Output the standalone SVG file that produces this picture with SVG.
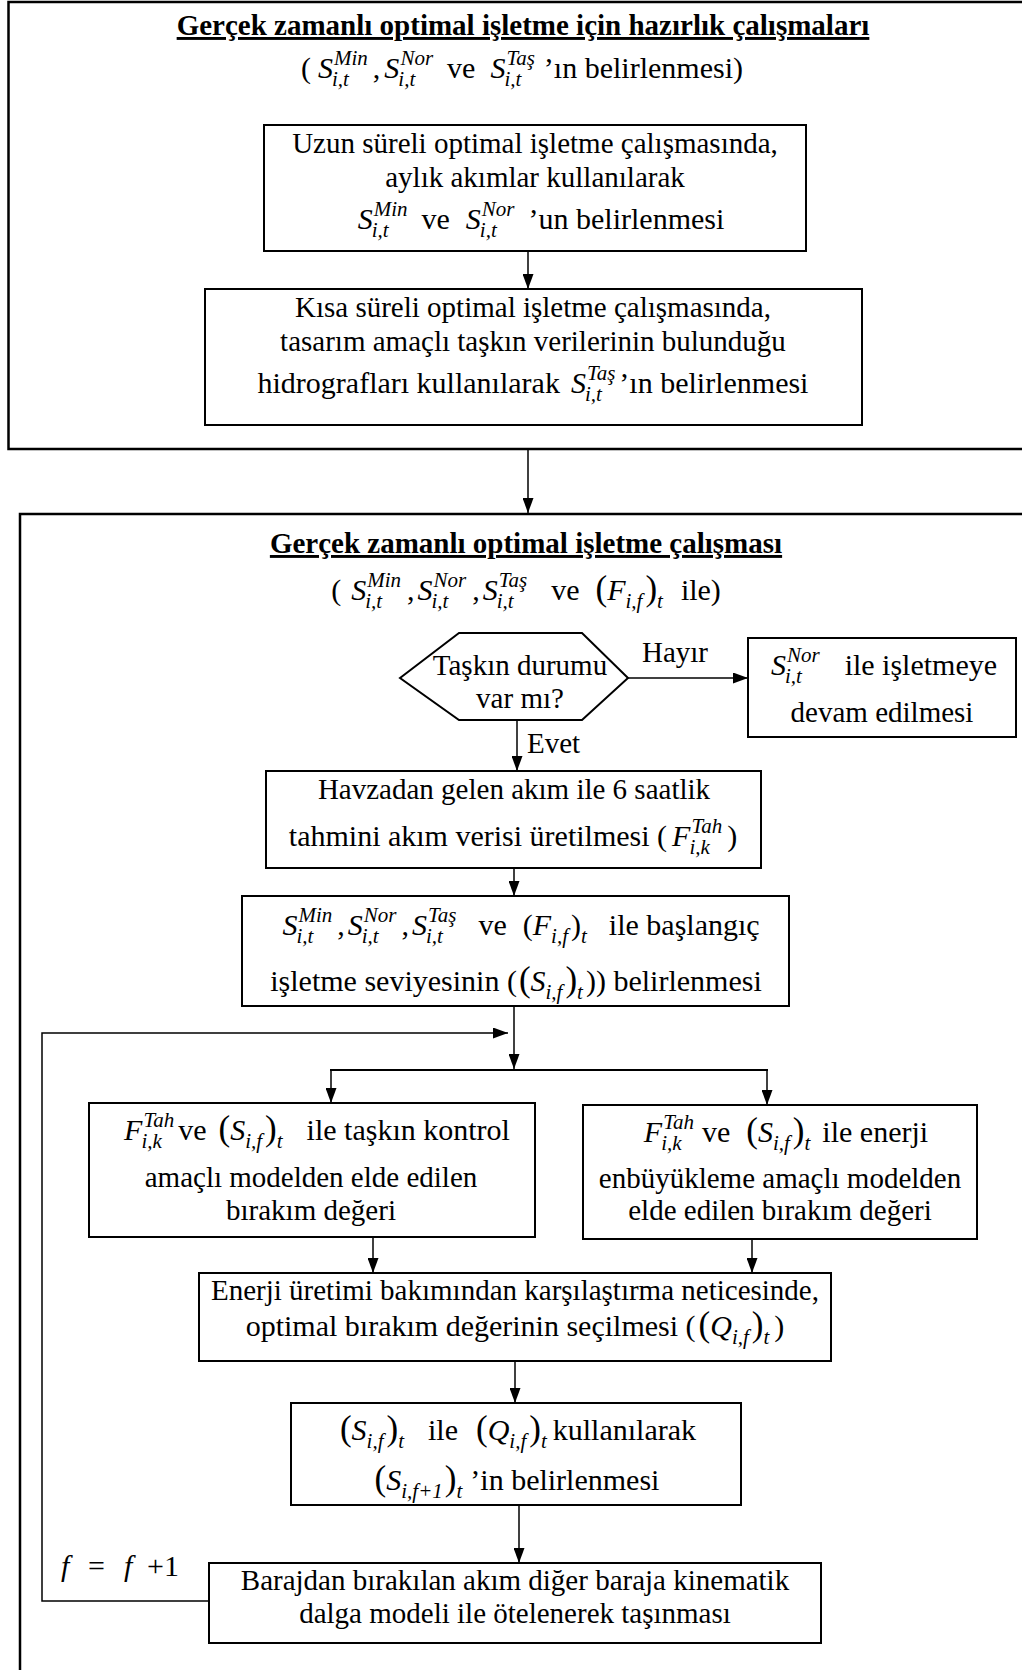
<svg xmlns="http://www.w3.org/2000/svg" width="1022" height="1670" viewBox="0 0 1022 1670">
<style>
.t{font-family:"Liberation Serif","Times New Roman",serif;font-size:29px;fill:#000}
.m{font-size:30px}
.b{font-weight:bold;text-decoration:underline}
.i{font-style:italic}
.s{font-style:italic;font-size:21px}
.p{font-size:35px}
.frame{fill:none;stroke:#000;stroke-width:2.5}
.box{fill:#fff;stroke:#000;stroke-width:2}
.c{fill:none;stroke:#000;stroke-width:1.5}
</style>
<defs>
<marker id="ah" markerWidth="15" markerHeight="11" refX="15" refY="5.5" orient="auto" markerUnits="userSpaceOnUse"><path d="M0,0 L15,5.5 L0,11 z" fill="#000"/></marker>
</defs>
<rect width="1022" height="1670" fill="#fff"/>

<g id="frame-prep">
<path class="frame" d="M1030,2 H8.5 V449 H1030"/>
<text class="t b" x="523" y="35" text-anchor="middle">Gerçek zamanlı optimal işletme için hazırlık çalışmaları</text>
<text class="t m" x="522" y="78" text-anchor="middle">(<tspan class="i" dx="7">S</tspan><tspan class="s" dx="-1" dy="8">i,t</tspan><tspan class="s" dx="-14.9" dy="-21">Min</tspan><tspan dx="5" dy="13">,</tspan><tspan class="i" dx="4">S</tspan><tspan class="s" dx="-1" dy="8">i,t</tspan><tspan class="s" dx="-14.9" dy="-21">Nor</tspan><tspan dx="14" dy="13">ve</tspan><tspan class="i" dx="15">S</tspan><tspan class="s" dx="-1" dy="8">i,t</tspan><tspan class="s" dx="-14.9" dy="-21">Taş</tspan><tspan dx="9" dy="13">’ın belirlenmesi)</tspan></text>
</g>

<g id="frame-realtime">
<path class="frame" d="M1030,514 H20 V1680"/>
<text class="t b" x="526" y="553" text-anchor="middle">Gerçek zamanlı optimal işletme çalışması</text>
<text class="t m" x="526" y="600" text-anchor="middle">(<tspan class="i" dx="10">S</tspan><tspan class="s" dx="-1" dy="8">i,t</tspan><tspan class="s" dx="-14.9" dy="-21">Min</tspan><tspan dx="6" dy="13">,</tspan><tspan class="i" dx="3">S</tspan><tspan class="s" dx="-1" dy="8">i,t</tspan><tspan class="s" dx="-14.9" dy="-21">Nor</tspan><tspan dx="6" dy="13">,</tspan><tspan class="i" dx="3">S</tspan><tspan class="s" dx="-1" dy="8">i,t</tspan><tspan class="s" dx="-14.9" dy="-21">Taş</tspan><tspan dx="24" dy="13">ve</tspan><tspan class="p" dx="16">(</tspan><tspan class="i">F</tspan><tspan class="s" dy="8">i,f</tspan><tspan class="p" dx="3" dy="-8">)</tspan><tspan class="s" dy="8">t</tspan><tspan dx="18" dy="-8">ile)</tspan></text>
</g>

<g id="connectors">
<path class="c" d="M528,251 V289" marker-end="url(#ah)"/>
<path class="c" d="M528,449 V513" marker-end="url(#ah)"/>
<path class="c" d="M628,678 H748" marker-end="url(#ah)"/>
<path class="c" d="M517,720 V771" marker-end="url(#ah)"/>
<path class="c" d="M514,868 V896" marker-end="url(#ah)"/>
<path class="c" d="M514,1006 V1069" marker-end="url(#ah)"/>
<path class="c" d="M209,1601 H42 V1033 H508" marker-end="url(#ah)"/>
<path class="c" d="M330,1070 H768" style="stroke-width:2"/>
<path class="c" d="M331,1070 V1103" marker-end="url(#ah)"/>
<path class="c" d="M767,1070 V1105" marker-end="url(#ah)"/>
<path class="c" d="M373,1237 V1273" marker-end="url(#ah)"/>
<path class="c" d="M752,1239 V1273" marker-end="url(#ah)"/>
<path class="c" d="M515,1361 V1403" marker-end="url(#ah)"/>
<path class="c" d="M519,1505 V1563" marker-end="url(#ah)"/>
<text class="t" x="642" y="662">Hayır</text>
<text class="t" x="527" y="753">Evet</text>
<text class="t m" y="1576"><tspan class="i" x="61">f</tspan><tspan x="88">=</tspan><tspan class="i" x="124">f</tspan><tspan x="147">+1</tspan></text>
</g>

<g id="node-uzun">
<rect class="box" x="264" y="125" width="542" height="126"/>
<text class="t" x="535" y="153" text-anchor="middle">Uzun süreli optimal işletme çalışmasında,</text>
<text class="t" x="535" y="187" text-anchor="middle">aylık akımlar kullanılarak</text>
<text class="t m" x="541" y="229" text-anchor="middle"><tspan class="i">S</tspan><tspan class="s" dx="-1" dy="8">i,t</tspan><tspan class="s" dx="-14.9" dy="-21">Min</tspan><tspan dx="14" dy="13">ve</tspan><tspan class="i" dx="16">S</tspan><tspan class="s" dx="-1" dy="8">i,t</tspan><tspan class="s" dx="-14.9" dy="-21">Nor</tspan><tspan dx="14" dy="13">’un belirlenmesi</tspan></text>
</g>

<g id="node-kisa">
<rect class="box" x="205" y="289" width="657" height="136"/>
<text class="t" x="533" y="317" text-anchor="middle">Kısa süreli optimal işletme çalışmasında,</text>
<text class="t" x="533" y="351" text-anchor="middle">tasarım amaçlı taşkın verilerinin bulunduğu</text>
<text class="t m" x="533" y="393" text-anchor="middle">hidrografları kullanılarak<tspan class="i" dx="11">S</tspan><tspan class="s" dx="-1" dy="8">i,t</tspan><tspan class="s" dx="-14.9" dy="-21">Taş</tspan><tspan dx="4" dy="13">’ın belirlenmesi</tspan></text>
</g>

<g id="node-taskin">
<polygon class="box" points="400,678 459,633 582,633 628,678 582,720 459,720"/>
<text class="t" x="520" y="675" text-anchor="middle">Taşkın durumu</text>
<text class="t" x="520" y="708" text-anchor="middle">var mı?</text>
</g>

<g id="node-normal">
<rect class="box" x="748" y="638" width="268" height="99"/>
<text class="t m" x="884" y="675" text-anchor="middle"><tspan class="i">S</tspan><tspan class="s" dx="-1" dy="8">i,t</tspan><tspan class="s" dx="-14.9" dy="-21">Nor</tspan><tspan dx="25" dy="13">ile işletmeye</tspan></text>
<text class="t" x="882" y="722" text-anchor="middle">devam edilmesi</text>
</g>

<g id="node-havza">
<rect class="box" x="266" y="771" width="495" height="97"/>
<text class="t" x="514" y="799" text-anchor="middle">Havzadan gelen akım ile 6 saatlik</text>
<text class="t m" x="513" y="846" text-anchor="middle">tahmini akım verisi üretilmesi (<tspan class="i" dx="5">F</tspan><tspan class="s" dx="-1" dy="8">i,k</tspan><tspan class="s" dx="-18.4" dy="-21">Tah</tspan><tspan dx="5" dy="13">)</tspan></text>
</g>

<g id="node-baslangic">
<rect class="box" x="242" y="896" width="547" height="110"/>
<text class="t m" x="521" y="935" text-anchor="middle"><tspan class="i">S</tspan><tspan class="s" dx="-1" dy="8">i,t</tspan><tspan class="s" dx="-14.9" dy="-21">Min</tspan><tspan dx="5" dy="13">,</tspan><tspan class="i" dx="3">S</tspan><tspan class="s" dx="-1" dy="8">i,t</tspan><tspan class="s" dx="-14.9" dy="-21">Nor</tspan><tspan dx="5" dy="13">,</tspan><tspan class="i" dx="3">S</tspan><tspan class="s" dx="-1" dy="8">i,t</tspan><tspan class="s" dx="-14.9" dy="-21">Taş</tspan><tspan dx="22" dy="13">ve</tspan><tspan dx="16">(</tspan><tspan class="i">F</tspan><tspan class="s" dy="8">i,f</tspan><tspan dx="3" dy="-8">)</tspan><tspan class="s" dy="8">t</tspan><tspan dx="22" dy="-8">ile başlangıç</tspan></text>
<text class="t m" x="516" y="991" text-anchor="middle">işletme seviyesinin (<tspan class="p" dx="2">(</tspan><tspan class="i">S</tspan><tspan class="s" dy="8">i,f</tspan><tspan class="p" dx="3" dy="-8">)</tspan><tspan class="s" dy="8">t</tspan><tspan dx="3" dy="-8">)) belirlenmesi</tspan></text>
</g>

<g id="node-taskin-kontrol">
<rect class="box" x="89" y="1103" width="446" height="134"/>
<text class="t m" x="317" y="1140" text-anchor="middle"><tspan class="i">F</tspan><tspan class="s" dx="-1" dy="8">i,k</tspan><tspan class="s" dx="-18.4" dy="-21">Tah</tspan><tspan dx="4" dy="13">ve</tspan><tspan class="p" dx="12">(</tspan><tspan class="i">S</tspan><tspan class="s" dy="8">i,f</tspan><tspan class="p" dx="3" dy="-8">)</tspan><tspan class="s" dy="8">t</tspan><tspan dx="24" dy="-8">ile taşkın kontrol</tspan></text>
<text class="t" x="311" y="1187" text-anchor="middle">amaçlı modelden elde edilen</text>
<text class="t" x="311" y="1220" text-anchor="middle">bırakım değeri</text>
</g>

<g id="node-enerji">
<rect class="box" x="583" y="1105" width="394" height="134"/>
<text class="t m" x="786" y="1142" text-anchor="middle"><tspan class="i">F</tspan><tspan class="s" dx="-1" dy="8">i,k</tspan><tspan class="s" dx="-18.4" dy="-21">Tah</tspan><tspan dx="8" dy="13">ve</tspan><tspan class="p" dx="16">(</tspan><tspan class="i">S</tspan><tspan class="s" dy="8">i,f</tspan><tspan class="p" dx="3" dy="-8">)</tspan><tspan class="s" dy="8">t</tspan><tspan dx="12" dy="-8">ile enerji</tspan></text>
<text class="t" x="780" y="1188" text-anchor="middle">enbüyükleme amaçlı modelden</text>
<text class="t" x="780" y="1220" text-anchor="middle">elde edilen bırakım değeri</text>
</g>

<g id="node-karsilastirma">
<rect class="box" x="199" y="1273" width="632" height="88"/>
<text class="t" x="515" y="1300" text-anchor="middle">Enerji üretimi bakımından karşılaştırma neticesinde,</text>
<text class="t m" x="515" y="1336" text-anchor="middle">optimal bırakım değerinin seçilmesi (<tspan class="p" dx="3">(</tspan><tspan class="i">Q</tspan><tspan class="s" dy="8">i,f</tspan><tspan class="p" dx="3" dy="-8">)</tspan><tspan class="s" dy="8">t</tspan><tspan dx="5" dy="-8">)</tspan></text>
</g>

<g id="node-seviye">
<rect class="box" x="291" y="1403" width="450" height="102"/>
<text class="t m" x="518" y="1440" text-anchor="middle"><tspan class="p">(</tspan><tspan class="i">S</tspan><tspan class="s" dy="8">i,f</tspan><tspan class="p" dx="3" dy="-8">)</tspan><tspan class="s" dy="8">t</tspan><tspan dx="24" dy="-8">ile</tspan><tspan class="p" dx="18">(</tspan><tspan class="i">Q</tspan><tspan class="s" dy="8">i,f</tspan><tspan class="p" dx="3" dy="-8">)</tspan><tspan class="s" dy="8">t</tspan><tspan dx="6" dy="-8">kullanılarak</tspan></text>
<text class="t m" x="517" y="1490" text-anchor="middle"><tspan class="p">(</tspan><tspan class="i">S</tspan><tspan class="s" dy="8">i,f+1</tspan><tspan class="p" dx="2" dy="-8">)</tspan><tspan class="s" dy="8">t</tspan><tspan dx="8" dy="-8">’in belirlenmesi</tspan></text>
</g>

<g id="node-baraj">
<rect class="box" x="209" y="1563" width="612" height="80"/>
<text class="t" x="515" y="1590" text-anchor="middle">Barajdan bırakılan akım diğer baraja kinematik</text>
<text class="t" x="515" y="1623" text-anchor="middle">dalga modeli ile ötelenerek taşınması</text>
</g>
</svg>
